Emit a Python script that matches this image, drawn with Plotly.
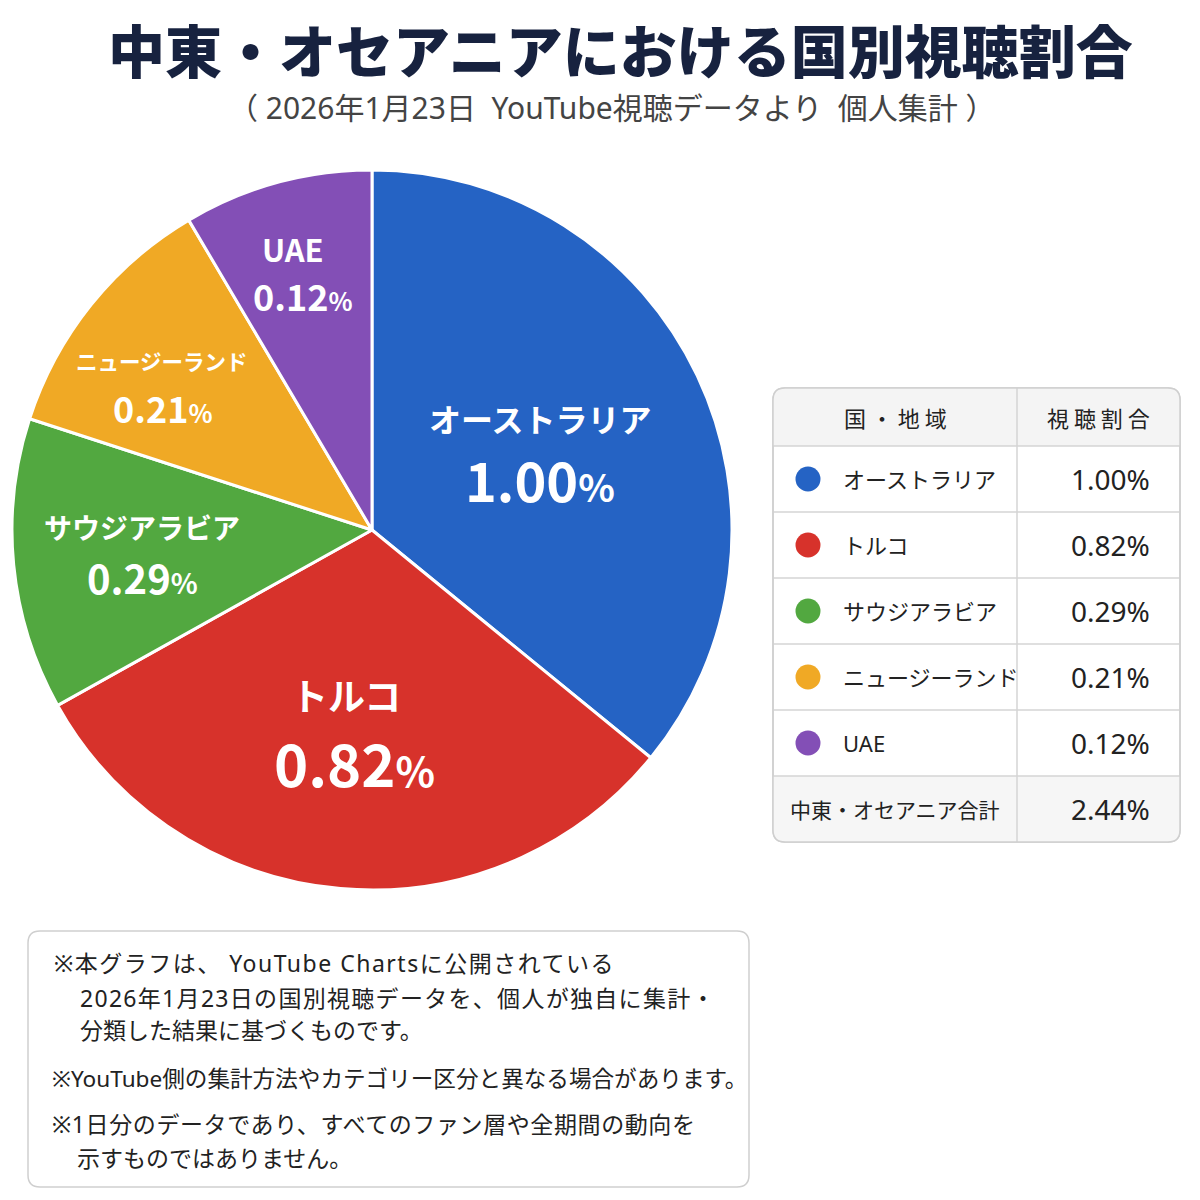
import plotly.graph_objects as go

# ---------------- data ----------------
countries = ["オーストラリア", "トルコ", "サウジアラビア", "ニュージーランド", "UAE"]
shares = [1.00, 0.82, 0.29, 0.21, 0.12]            # viewing share (%) as labelled
slice_weights = [35.9, 31.0, 13.1, 11.5, 8.5]      # slice sizes as drawn in the picture
colors = ["#2563C4", "#D7322B", "#52A840", "#F0A925", "#834FB6"]
total_label = "中東・オセアニア合計"
header = ["国 ・ 地 域", "視 聴 割 合"]

title = "中東・オセアニアにおける国別視聴割合"
subtitle = "（ 2026年1月23日  YouTube視聴データより  個人集計 ）"
notes = [
    ("※本グラフは、 YouTube Chartsに公開されている", 52, 963, 23, 1.5),
    ("2026年1月23日の国別視聴データを、個人が独自に集計・", 78, 998, 23, 1.3),
    ("分類した結果に基づくものです。", 78, 1030, 23, 0),
    ("※YouTube側の集計方法やカテゴリー区分と異なる場合があります。", 50, 1078, 22.6, 0),
    ("※1日分のデータであり、すべてのファン層や全期間の動向を", 50, 1124, 23, 0.6),
    ("示すものではありません。", 75, 1158, 23, 0),
]

FONT = "Noto Sans CJK JP"
BODY = "Noto Sans, Noto Sans CJK JP"
W = H = 1200
OFF = 8  # page offset of the figure inside the browser window

# label layout (pixel positions of name / value lines, font sizes)
label_layout = [
    dict(name=(540, 418), val=(540, 478), ns=32, vs=54),
    dict(name=(346, 695), val=(354, 762), ns=37, vs=58),
    dict(name=(142, 527), val=(142, 577), ns=28, vs=40),
    dict(name=(162, 360), val=(163, 407), ns=21.5, vs=36),
    dict(name=(293, 248), val=(303, 295), ns=31, vs=36),
]

fig = go.Figure()

# pie (domain in paper coords)
cx, cy, r = 372, 530, 360
fig.add_trace(go.Pie(
    labels=countries, values=slice_weights, sort=False, direction="clockwise",
    rotation=0, marker=dict(colors=colors, line=dict(color="white", width=3)),
    textinfo="none", hoverinfo="skip", showlegend=False,
    domain=dict(x=[(cx - r - OFF) / W, (cx + r - OFF) / W],
                y=[1 - (cy + r - OFF) / H, 1 - (cy - r - OFF) / H]),
))

annotations = []
shapes = []


def txt(x, y, text, size, color="#222222", weight="normal", xanchor="center", family=FONT):
    annotations.append(dict(
        x=x, y=y, xref="x", yref="y", text=text, showarrow=False,
        xanchor=xanchor, yanchor="middle",
        font=dict(family=family, size=size, color=color, weight=weight),
    ))


def rounded_rect(x0, y0, x1, y1, rad):
    return (f"M {x0+rad},{y0} L {x1-rad},{y0} Q {x1},{y0} {x1},{y0+rad} "
            f"L {x1},{y1-rad} Q {x1},{y1} {x1-rad},{y1} L {x0+rad},{y1} "
            f"Q {x0},{y1} {x0},{y1-rad} L {x0},{y0+rad} Q {x0},{y0} {x0+rad},{y0} Z")


def top_rounded(x0, y0, x1, y1, rad):
    return (f"M {x0},{y1} L {x0},{y0+rad} Q {x0},{y0} {x0+rad},{y0} "
            f"L {x1-rad},{y0} Q {x1},{y0} {x1},{y0+rad} L {x1},{y1} Z")


def bottom_rounded(x0, y0, x1, y1, rad):
    return (f"M {x0},{y0} L {x1},{y0} L {x1},{y1-rad} Q {x1},{y1} {x1-rad},{y1} "
            f"L {x0+rad},{y1} Q {x0},{y1} {x0},{y1-rad} Z")


# title / subtitle
txt(620, 48, title, 57, color="#17223F", weight=900)
txt(612, 107, subtitle, 30, color="#444444", family=BODY)

# pie labels
for name, v, lay in zip(countries, shares, label_layout):
    txt(lay["name"][0], lay["name"][1], name, lay["ns"], color="white", weight="bold")
    pct = f"{v:.2f}<span style='font-size:{int(lay['vs']*0.72)}px'>%</span>"
    txt(lay["val"][0], lay["val"][1], pct, lay["vs"], color="white", weight="bold")

# ---------------- table ----------------
tx0, tx1, ty0 = 773, 1180, 388
col_div = 1017
header_h = 58
row_h = 66
n = len(countries)
ty1 = ty0 + header_h + row_h * (n + 1)
rad = 12
line_col = "#D5D5D5"

shapes.append(dict(type="path", path=rounded_rect(tx0, ty0, tx1, ty1, rad),
                   xref="x", yref="y", fillcolor="white", line=dict(color="#CFCFCF", width=1.5),
                   layer="below"))
shapes.append(dict(type="path", path=top_rounded(tx0, ty0, tx1, ty0 + header_h, rad),
                   xref="x", yref="y", fillcolor="#F4F4F4", line=dict(width=0), layer="below"))
shapes.append(dict(type="path", path=bottom_rounded(tx0, ty1 - row_h, tx1, ty1, rad),
                   xref="x", yref="y", fillcolor="#F6F6F6", line=dict(width=0), layer="below"))
for i in range(n + 1):
    yy = ty0 + header_h + row_h * i
    shapes.append(dict(type="line", x0=tx0, x1=tx1, y0=yy, y1=yy, xref="x", yref="y",
                       line=dict(color=line_col, width=1.5)))
shapes.append(dict(type="line", x0=col_div, x1=col_div, y0=ty0, y1=ty1, xref="x", yref="y",
                   line=dict(color=line_col, width=1.5)))
shapes.append(dict(type="path", path=rounded_rect(tx0, ty0, tx1, ty1, rad),
                   xref="x", yref="y", line=dict(color="#CFCFCF", width=1.5)))

txt((tx0 + col_div) / 2, ty0 + header_h / 2, header[0], 22)
txt((col_div + tx1) / 2, ty0 + header_h / 2, header[1], 22)

row_y = [ty0 + header_h + row_h * i + row_h / 2 for i in range(n)]
for name, v, yy in zip(countries, shares, row_y):
    txt(841, yy, name, 22, xanchor="left", family=BODY)
    txt(1152, yy, f"{v:.2f}%", 28, xanchor="right", family=BODY)

fig.add_trace(go.Scatter(
    x=[808] * n, y=row_y, mode="markers",
    marker=dict(size=25, color=colors, line=dict(width=0)),
    hoverinfo="skip", showlegend=False,
))

tot_y = ty1 - row_h / 2
txt(895, tot_y, total_label, 21)
txt(1152, tot_y, f"{sum(shares):.2f}%", 28, xanchor="right", family=BODY)

# ---------------- notes box ----------------
shapes.append(dict(type="path", path=rounded_rect(28, 931, 749, 1187, 12),
                   xref="x", yref="y", fillcolor="white", line=dict(color="#CFCFCF", width=1.5),
                   layer="below"))
for text, x, y, size, ls in notes:
    t = f"<span style='letter-spacing:{ls}px'>{text}</span>" if ls else text
    txt(x, y, t, size, color="#222222", xanchor="left", family=BODY)

fig.update_layout(
    width=W, height=H, margin=dict(l=0, r=0, t=0, b=0),
    paper_bgcolor="white", plot_bgcolor="rgba(0,0,0,0)",
    xaxis=dict(range=[OFF, W + OFF], visible=False, domain=[0, 1], fixedrange=True),
    yaxis=dict(range=[H + OFF, OFF], visible=False, domain=[0, 1], fixedrange=True),
    annotations=annotations, shapes=shapes,
    font=dict(family=FONT),
)

fig.write_html("out.html")
